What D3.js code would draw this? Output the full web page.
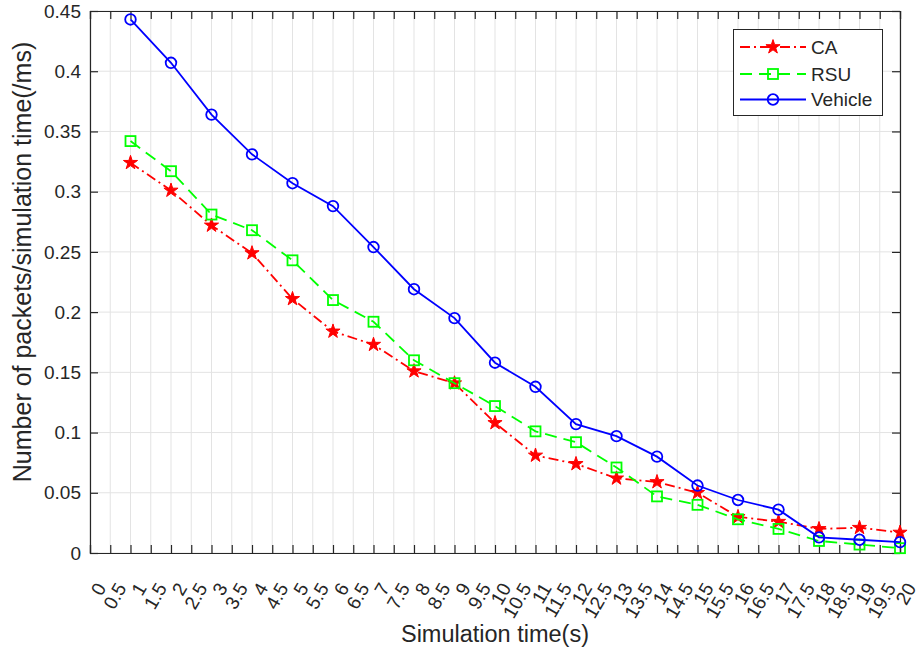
<!DOCTYPE html>
<html>
<head>
<meta charset="utf-8">
<script src="https://cdn.jsdelivr.net/npm/d3@7/dist/d3.min.js"></script>
<style>
  body { margin: 0; background: #fff; }
  text { font-family: "Liberation Sans", Arial, Helvetica, sans-serif; fill: #262626; }
</style>
</head>
<body>
<div id="chart"></div>
<script>
// Simulation time (s) for each point
const times = [1, 2, 3, 4, 5, 6, 7, 8, 9, 10, 11, 12, 13, 14, 15, 16, 17, 18, 19, 20];

// Number of packets / simulation time (/ms)
const caValues = [0.324, 0.301, 0.272, 0.249, 0.211, 0.184, 0.173, 0.151, 0.141, 0.108,
                  0.081, 0.074, 0.062, 0.059, 0.050, 0.030, 0.026, 0.020, 0.021, 0.017];
const rsuValues = [0.342, 0.317, 0.281, 0.268, 0.243, 0.210, 0.192, 0.160, 0.141, 0.122,
                   0.101, 0.092, 0.071, 0.047, 0.040, 0.028, 0.020, 0.010, 0.007, 0.004];
const vehicleValues = [0.443, 0.407, 0.364, 0.331, 0.307, 0.288, 0.254, 0.219, 0.195, 0.158,
                       0.138, 0.107, 0.097, 0.080, 0.056, 0.044, 0.036, 0.013, 0.011, 0.009];

const seriesNames = ["CA", "RSU", "Vehicle"];

const xTickValues = [0, 0.5, 1, 1.5, 2, 2.5, 3, 3.5, 4, 4.5, 5, 5.5, 6, 6.5, 7, 7.5, 8, 8.5, 9, 9.5, 10,
                     10.5, 11, 11.5, 12, 12.5, 13, 13.5, 14, 14.5, 15, 15.5, 16, 16.5, 17, 17.5, 18, 18.5, 19, 19.5, 20];
const yTickValues = [0, 0.05, 0.1, 0.15, 0.2, 0.25, 0.3, 0.35, 0.4, 0.45];

const width = 919, height = 654;
const margin = { top: 11, right: 19, bottom: 101, left: 90 };
const innerW = width - margin.left - margin.right;
const innerH = height - margin.top - margin.bottom;

const svg = d3.select('#chart').append('svg')
    .attr('width', width)
    .attr('height', height);

const g = svg.append('g').attr('transform', `translate(${margin.left},${margin.top})`);

const x = d3.scaleLinear().domain([0, 20]).range([0, innerW]);
const y = d3.scaleLinear().domain([0, 0.45]).range([innerH, 0]);

// grid
g.append('g').selectAll('line.vg').data(xTickValues).enter().append('line')
    .attr('x1', d => x(d)).attr('x2', d => x(d))
    .attr('y1', 0).attr('y2', innerH)
    .attr('stroke', '#e3e3e3').attr('stroke-width', 1);
g.append('g').selectAll('line.hg').data(yTickValues).enter().append('line')
    .attr('x1', 0).attr('x2', innerW)
    .attr('y1', d => y(d)).attr('y2', d => y(d))
    .attr('stroke', '#e3e3e3').attr('stroke-width', 1);

// axes (ticks inward, on all four sides)
const tickLen = 8;
const fs = 19;
const xAxis = g.append('g').attr('transform', `translate(0,${innerH})`)
    .call(d3.axisBottom(x).tickValues(xTickValues).tickSize(-tickLen).tickFormat(''));
const xAxisTop = g.append('g')
    .call(d3.axisTop(x).tickValues(xTickValues).tickSize(-tickLen).tickFormat(''));
const yAxis = g.append('g')
    .call(d3.axisLeft(y).tickValues(yTickValues).tickSize(-tickLen).tickFormat(''));
const yAxisRight = g.append('g').attr('transform', `translate(${innerW},0)`)
    .call(d3.axisRight(y).tickValues(yTickValues).tickSize(-tickLen).tickFormat(''));

[xAxis, xAxisTop, yAxis, yAxisRight].forEach(a => {
    a.select('.domain').attr('stroke', '#262626').attr('stroke-width', 1.2);
    a.selectAll('.tick line').attr('stroke', '#262626').attr('stroke-width', 1.2);
});

// y tick labels
g.append('g').selectAll('text').data(yTickValues).enter().append('text')
    .attr('x', -9)
    .attr('y', d => y(d))
    .attr('dy', '0.35em')
    .attr('text-anchor', 'end')
    .attr('font-size', fs)
    .text(d => d3.format('~g')(d));

// x tick labels, rotated
g.append('g').selectAll('text').data(xTickValues).enter().append('text')
    .attr('transform', d => `translate(${x(d) + 5},${innerH + 28}) rotate(-60)`)
    .attr('dy', '0.72em')
    .attr('text-anchor', 'end')
    .attr('font-size', fs)
    .text(d => String(d));

// axis titles
svg.append('text')
    .attr('x', margin.left + innerW / 2)
    .attr('y', 642)
    .attr('text-anchor', 'middle')
    .attr('font-size', 23.5)
    .text('Simulation time(s)');

svg.append('text')
    .attr('transform', `translate(31,262) rotate(-90)`)
    .attr('text-anchor', 'middle')
    .attr('font-size', 25)
    .text('Number of packets/simulation time(/ms)');

// series
const series = [
    { name: seriesNames[0], values: caValues, color: '#ff0000', dash: '10,4,2,4', marker: 'star' },
    { name: seriesNames[1], values: rsuValues, color: '#00ff00', dash: '12,7', marker: 'square' },
    { name: seriesNames[2], values: vehicleValues, color: '#0000ff', dash: null, marker: 'circle' }
];

const line = d3.line().x(d => x(d[0])).y(d => y(d[1]));

function drawMarker(sel, type, color) {
    if (type === 'star') {
        sel.append('path')
            .attr('d', d3.symbol().type(d3.symbolStar).size(62)())
            .attr('fill', color).attr('stroke', color).attr('stroke-width', 1);
    } else if (type === 'square') {
        sel.append('rect')
            .attr('x', -5).attr('y', -5).attr('width', 10).attr('height', 10)
            .attr('fill', 'none').attr('stroke', color).attr('stroke-width', 1.8);
    } else {
        sel.append('circle')
            .attr('r', 5.3)
            .attr('fill', 'none').attr('stroke', color).attr('stroke-width', 1.8);
    }
}

series.forEach(s => {
    const pts = times.map((t, i) => [t, s.values[i]]);
    g.append('path')
        .datum(pts)
        .attr('d', line)
        .attr('fill', 'none')
        .attr('stroke', s.color)
        .attr('stroke-width', 1.8)
        .attr('stroke-dasharray', s.dash);
    g.append('g').selectAll('g').data(pts).enter().append('g')
        .attr('transform', d => `translate(${x(d[0])},${y(d[1])})`)
        .each(function() { drawMarker(d3.select(this), s.marker, s.color); });
});

// legend
const legend = svg.append('g');
legend.append('rect')
    .attr('x', 733.5).attr('y', 29.5).attr('width', 149).attr('height', 86)
    .attr('fill', '#fff').attr('stroke', '#262626').attr('stroke-width', 1);
const rowY = [47, 74, 99.5];
series.forEach((s, i) => {
    const row = legend.append('g').attr('transform', `translate(0,${rowY[i]})`);
    row.append('line')
        .attr('x1', 740).attr('x2', 806).attr('y1', 0).attr('y2', 0)
        .attr('stroke', s.color).attr('stroke-width', 1.8)
        .attr('stroke-dasharray', s.dash);
    drawMarker(row.append('g').attr('transform', 'translate(773,0)'), s.marker, s.color);
    row.append('text')
        .attr('x', 811).attr('y', 0).attr('dy', '0.35em')
        .attr('font-size', fs)
        .text(s.name);
});
</script>
</body>
</html>
